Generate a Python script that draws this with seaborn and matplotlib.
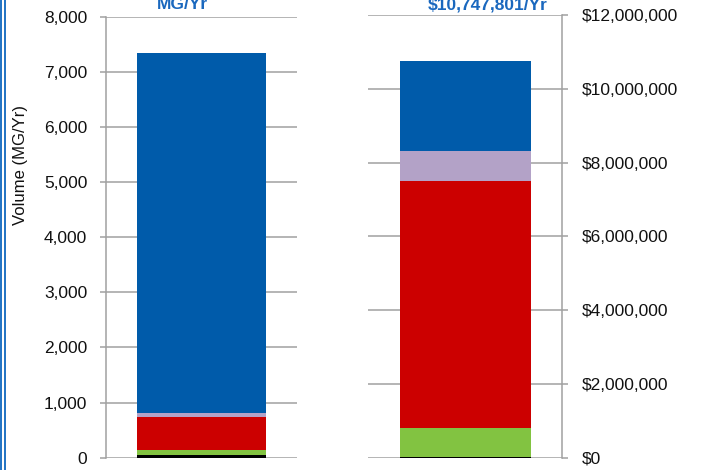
import numpy as np
import pandas as pd
import matplotlib.pyplot as plt
import seaborn as sns
from matplotlib.lines import Line2D
from matplotlib.ticker import FuncFormatter

# --- data (bottom to top) ---
segments = ['Other', 'Green', 'Red', 'Lavender', 'Blue']
seg_colors = ['#000000', '#82C341', '#CC0000', '#B3A2C7', '#005BAA']
volume_mg = [55, 90, 586, 73, 6546]                               # MG/Yr
cost_usd = [25000, 790000, 6685000, 810000, 2437801]              # $/Yr
vol_title = 'MG/Yr'
cost_title = '$10,747,801/Yr'

sns.set_style('white')
plt.rcParams['font.family'] = ['Liberation Sans', 'DejaVu Sans']

fig = plt.figure(figsize=(7.19, 4.70), dpi=100)
ax1 = fig.add_axes([106/719, 12.3/470, 191/719, 441/470])
ax2 = fig.add_axes([368/719, 12.3/470, 194/719, 442.7/470])

grid_c = '#A0A0A0'


def stacked_bar(ax, values):
    df = pd.DataFrame({'seg': segments, 'val': values, 'color': seg_colors})
    df['top'] = df['val'].cumsum()
    # draw cumulative totals from the top layer down so lower layers cover upper ones
    for _, row in df.iloc[::-1].iterrows():
        sns.barplot(x=[0], y=[row['top']], color=row['color'], width=0.675,
                    saturation=1, linewidth=0, ax=ax, zorder=3)


stacked_bar(ax1, volume_mg)
stacked_bar(ax2, cost_usd)

# left axis: volume
ax1.set_xlim(-0.5, 0.5)
ax1.set_ylim(0, 8000)
ax1.set_yticks(np.arange(0, 8001, 1000))
ax1.yaxis.set_major_formatter(FuncFormatter(lambda v, p: f'{v:,.0f}'))
ax1.yaxis.grid(True, color=grid_c, linewidth=1.1, zorder=0)
ax1.set_axisbelow(True)
ax1.tick_params(axis='y', left=True, length=4.5, width=1.1, color=grid_c,
                pad=9, labelsize=12.5, labelcolor='#111111')
ax1.set_xticks([])
ax1.set_xlabel('')
ax1.set_ylabel('')
for s in ['top', 'right', 'bottom']:
    ax1.spines[s].set_visible(False)
ax1.spines['left'].set_color(grid_c)
ax1.spines['left'].set_linewidth(1.1)

# right axis: cost
ax2.set_xlim(-0.503, 0.497)
ax2.set_ylim(0, 12000000)
ax2.set_yticks(np.arange(0, 12000001, 2000000))
ax2.yaxis.set_major_formatter(FuncFormatter(lambda v, p: f'${v:,.0f}'))
ax2.yaxis.tick_right()
ax2.yaxis.grid(True, color=grid_c, linewidth=1.1, zorder=0)
ax2.set_axisbelow(True)
ax2.tick_params(axis='y', right=True, left=False, length=4.5, width=1.1,
                color=grid_c, pad=10, labelsize=12.5, labelcolor='#111111')
ax2.set_xticks([])
ax2.set_xlabel('')
ax2.set_ylabel('')
for s in ['top', 'left', 'bottom']:
    ax2.spines[s].set_visible(False)
ax2.spines['right'].set_color(grid_c)
ax2.spines['right'].set_linewidth(1.1)

# titles (partly cut off at the top of the image)
fig.text(182/719, 1 - 9/470, vol_title, ha='center', va='baseline',
         fontsize=12.5, fontweight='bold', color='#1A68BE')
fig.text(488/719, 1 - 9.5/470, cost_title, ha='center', va='baseline',
         fontsize=12.5, fontweight='bold', color='#1A68BE')

fig.text(21/719, 1 - 165/470, 'Volume (MG/Yr)', rotation=90,
         ha='center', va='center', fontsize=12, color='#111111')

# double blue frame at the left edge
for xp in [1.2, 5.0]:
    fig.add_artist(Line2D([xp/719, xp/719], [0, 1], color='#1F73C4',
                          linewidth=1.4, transform=fig.transFigure))

fig.savefig('out.png', dpi=100)
